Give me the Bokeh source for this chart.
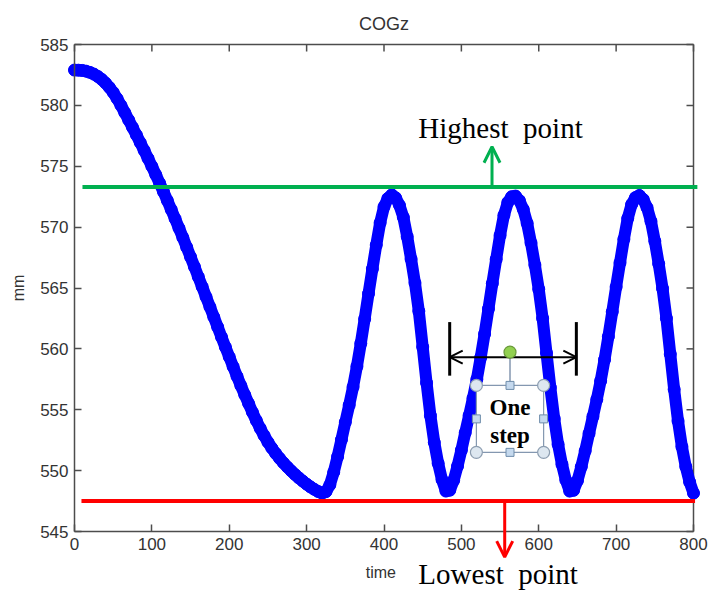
import math
from bokeh.plotting import figure
from bokeh.models import Range1d, FixedTicker, Arrow, OpenHead, Label
from bokeh.embed import file_html
from bokeh.resources import INLINE

# ---------------- data ----------------
time = list(range(0, 801, 5))
cogz = [
    582.90, 582.89, 582.87, 582.81, 582.71, 582.57, 582.38, 582.14, 581.84, 581.48,
    581.06, 580.56, 580.00, 579.40, 578.80, 578.19, 577.57, 576.94, 576.30, 575.65,
    574.99, 574.31, 573.61, 572.90, 572.18, 571.44, 570.69, 569.92, 569.14, 568.35,
    567.55, 566.74, 565.92, 565.10, 564.27, 563.45, 562.62, 561.80, 560.97, 560.15,
    559.34, 558.54, 557.75, 556.98, 556.23, 555.51, 554.79, 554.11, 553.47, 552.88,
    552.34, 551.85, 551.41, 551.01, 550.64, 550.30, 549.98, 549.68, 549.40, 549.14,
    548.89, 548.66, 548.46, 548.28, 548.15,
    548.27, 548.82, 549.87, 551.14, 552.54, 553.98, 555.38, 556.87, 558.56, 560.45,
    562.46, 564.54, 566.57, 568.53, 570.35, 571.67, 572.36, 572.65,
    572.41, 571.79, 570.81, 569.22, 567.38, 565.42, 563.10, 560.16, 557.22, 554.52,
    552.32, 550.60, 549.25, 548.32,
    548.39, 549.19, 550.36, 551.68, 553.12, 554.53, 555.95, 557.51, 559.30, 561.23,
    563.29, 565.37, 567.36, 569.32, 570.98, 572.03, 572.50,
    572.55, 572.18, 571.46, 570.32, 568.71, 566.89, 564.90, 562.51, 559.66, 556.83,
    554.27, 552.16, 550.52, 549.22, 548.32,
    548.38, 549.17, 550.32, 551.62, 553.05, 554.44, 555.84, 557.37, 559.11, 561.01,
    563.04, 565.09, 567.07, 569.01, 570.72, 571.86, 572.43,
    572.60, 572.28, 571.60, 570.49, 568.85, 566.99, 564.96, 562.51, 559.57, 556.68,
    554.08, 551.97, 550.33, 549.07, 548.15,
]
x_ticks = [0, 100, 200, 300, 400, 500, 600, 700, 800]
y_ticks = [545, 550, 555, 560, 565, 570, 575, 580, 585]

highest_level = 573.3
lowest_level = 547.5
highest_span = [10.3, 805.0]
lowest_span = [9.0, 802.0]
step_bounds = [484.9, 648.6]

# ---------------- styles / layout ----------------
AX = "#4d4d4d"
TXT = "#333333"
BLUE = "#0000ff"
GREEN = "#00b050"
RED = "#ff0000"
X0, X1, Y0, Y1 = 0, 800, 545, 585
PAGE_W, PAGE_H = 710, 590
BOX_L, BOX_T, BOX_W, BOX_H = 74, 44, 619, 487     # pixel box of the axes
UX = (X1 - X0) / BOX_W                            # data units per pixel
UY = (Y1 - Y0) / BOX_H
XR = (X0 - BOX_L * UX, X1 + (PAGE_W - BOX_L - BOX_W) * UX)
YR = (Y0 - (PAGE_H - BOX_T - BOX_H) * UY, Y1 + BOX_T * UY)
TICK = 7

p = figure(frame_width=PAGE_W, frame_height=PAGE_H,
           x_range=Range1d(*XR), y_range=Range1d(*YR),
           output_backend="svg", toolbar_location=None,
           min_border=0, background_fill_color="white", border_fill_color="white")

p.xgrid.grid_line_color = None
p.ygrid.grid_line_color = None
p.outline_line_color = None

for ax, ticks in ((p.xaxis, x_ticks), (p.yaxis, y_ticks)):
    ax.ticker = FixedTicker(ticks=ticks)
    ax.major_tick_in = TICK
    ax.major_tick_out = 0
    ax.minor_tick_line_color = None
    ax.axis_line_color = AX
    ax.axis_line_width = 1.5
    ax.major_tick_line_color = AX
    ax.major_tick_line_width = 1.5
    ax.major_label_text_font = "Liberation Sans"
    ax.major_label_text_font_size = "17px"
    ax.major_label_text_color = TXT
    ax.major_label_standoff = 6

p.xaxis.fixed_location = Y0
p.xaxis.bounds = (X0, X1)
p.yaxis.fixed_location = X0
p.yaxis.bounds = (Y0, Y1)

# top and right edges of the box, with inward ticks (MATLAB style)
p.segment(x0=[X0], y0=[Y1], x1=[X1], y1=[Y1], line_color=AX, line_width=1.5)
p.segment(x0=[X1], y0=[Y0], x1=[X1], y1=[Y1], line_color=AX, line_width=1.5)
p.segment(x0=x_ticks, y0=[Y1] * len(x_ticks), x1=x_ticks, y1=[Y1 - TICK * UY] * len(x_ticks),
          line_color=AX, line_width=1.5)
p.segment(x0=[X1] * len(y_ticks), y0=y_ticks, x1=[X1 - TICK * UX] * len(y_ticks), y1=y_ticks,
          line_color=AX, line_width=1.5)

# title and axis labels
p.add_layout(Label(x=(X0 + X1) / 2, y=Y1 + 20.5 * UY, text="COGz", text_font="Liberation Sans",
                   text_font_size="18px", text_color=TXT, text_align="center",
                   text_baseline="middle"))
p.add_layout(Label(x=396, y=Y0 - 41 * UY, text="time", text_font="Liberation Sans",
                   text_font_size="16px", text_color=TXT, text_align="center",
                   text_baseline="middle"))
p.add_layout(Label(x=X0 - 56.5 * UX, y=(Y0 + Y1) / 2, text="mm", text_font="Liberation Sans",
                   text_font_size="16px", text_color=TXT, text_align="center",
                   text_baseline="middle", angle=math.pi / 2))

# ---------------- the curve ----------------
p.line(time, cogz, line_color=BLUE, line_width=12, line_join="round", line_cap="round")
p.scatter(time, cogz, marker="circle", size=12, fill_color=BLUE, line_color=BLUE, line_width=1)

# ---------------- reference lines ----------------
p.segment(x0=[highest_span[0]], y0=[highest_level], x1=[highest_span[1]], y1=[highest_level],
          line_color=GREEN, line_width=4)
p.segment(x0=[lowest_span[0]], y0=[lowest_level], x1=[lowest_span[1]], y1=[lowest_level],
          line_color=RED, line_width=4)

p.add_layout(Arrow(end=OpenHead(line_color=GREEN, line_width=3, size=16),
                   x_start=539.6, y_start=highest_level, x_end=539.6, y_end=576.6,
                   line_color=GREEN, line_width=3))
p.add_layout(Arrow(end=OpenHead(line_color=RED, line_width=3, size=16),
                   x_start=556.0, y_start=lowest_level, x_end=556.0, y_end=542.9,
                   line_color=RED, line_width=3))

p.add_layout(Label(x=444.4, y=578.18, text="Highest\u00a0 point", text_font="Liberation Serif",
                   text_font_size="29px", text_color="black", text_align="left",
                   text_baseline="alphabetic"))
p.add_layout(Label(x=444.4, y=541.47, text="Lowest\u00a0 point", text_font="Liberation Serif",
                   text_font_size="29px", text_color="black", text_align="left",
                   text_baseline="alphabetic"))

# ---------------- "One step" annotation ----------------
arrow_y = 559.32
p.segment(x0=step_bounds, y0=[557.8, 557.8], x1=step_bounds, y1=[562.2, 562.2],
          line_color="black", line_width=3)
p.add_layout(Arrow(start=OpenHead(line_color="black", line_width=2, size=13),
                   end=OpenHead(line_color="black", line_width=2, size=13),
                   x_start=step_bounds[0], y_start=arrow_y, x_end=step_bounds[1], y_end=arrow_y,
                   line_color="black", line_width=2))

box_l, box_r, box_b, box_t = 519.4, 606.3, 551.5, 557.0
box_cx = (box_l + box_r) / 2
box_cy = (box_b + box_t) / 2
p.quad(left=[box_l], right=[box_r], bottom=[box_b], top=[box_t],
       fill_color="white", line_color="#8497b0", line_width=1.2)
p.segment(x0=[box_cx], y0=[box_t], x1=[box_cx], y1=[559.73],
          line_color="#8497b0", line_width=1.5)
p.scatter([box_l, box_r, box_l, box_r], [box_t, box_t, box_b, box_b], marker="circle",
          size=12, fill_color="#dde7f0", line_color="#8c9db0", line_width=1.2)
p.scatter([box_cx, box_l, box_r, box_cx], [box_t, box_cy, box_cy, box_b], marker="square",
          size=8, fill_color="#c5d9ee", line_color="#6e8caa", line_width=1)
p.scatter([box_cx], [559.73], marker="circle", size=12, fill_color="#92d050",
          line_color="#6a9a3a", line_width=1.2, level="overlay")

p.add_layout(Label(x=box_cx, y=555.21, text="One", text_font="Liberation Serif",
                   text_font_size="23px", text_font_style="bold", text_color="black",
                   text_align="center", text_baseline="middle"))
p.add_layout(Label(x=box_cx, y=552.88, text="step", text_font="Liberation Serif",
                   text_font_size="23px", text_font_style="bold", text_color="black",
                   text_align="center", text_baseline="middle"))

open("out.html", "w").write(file_html(p, INLINE))
